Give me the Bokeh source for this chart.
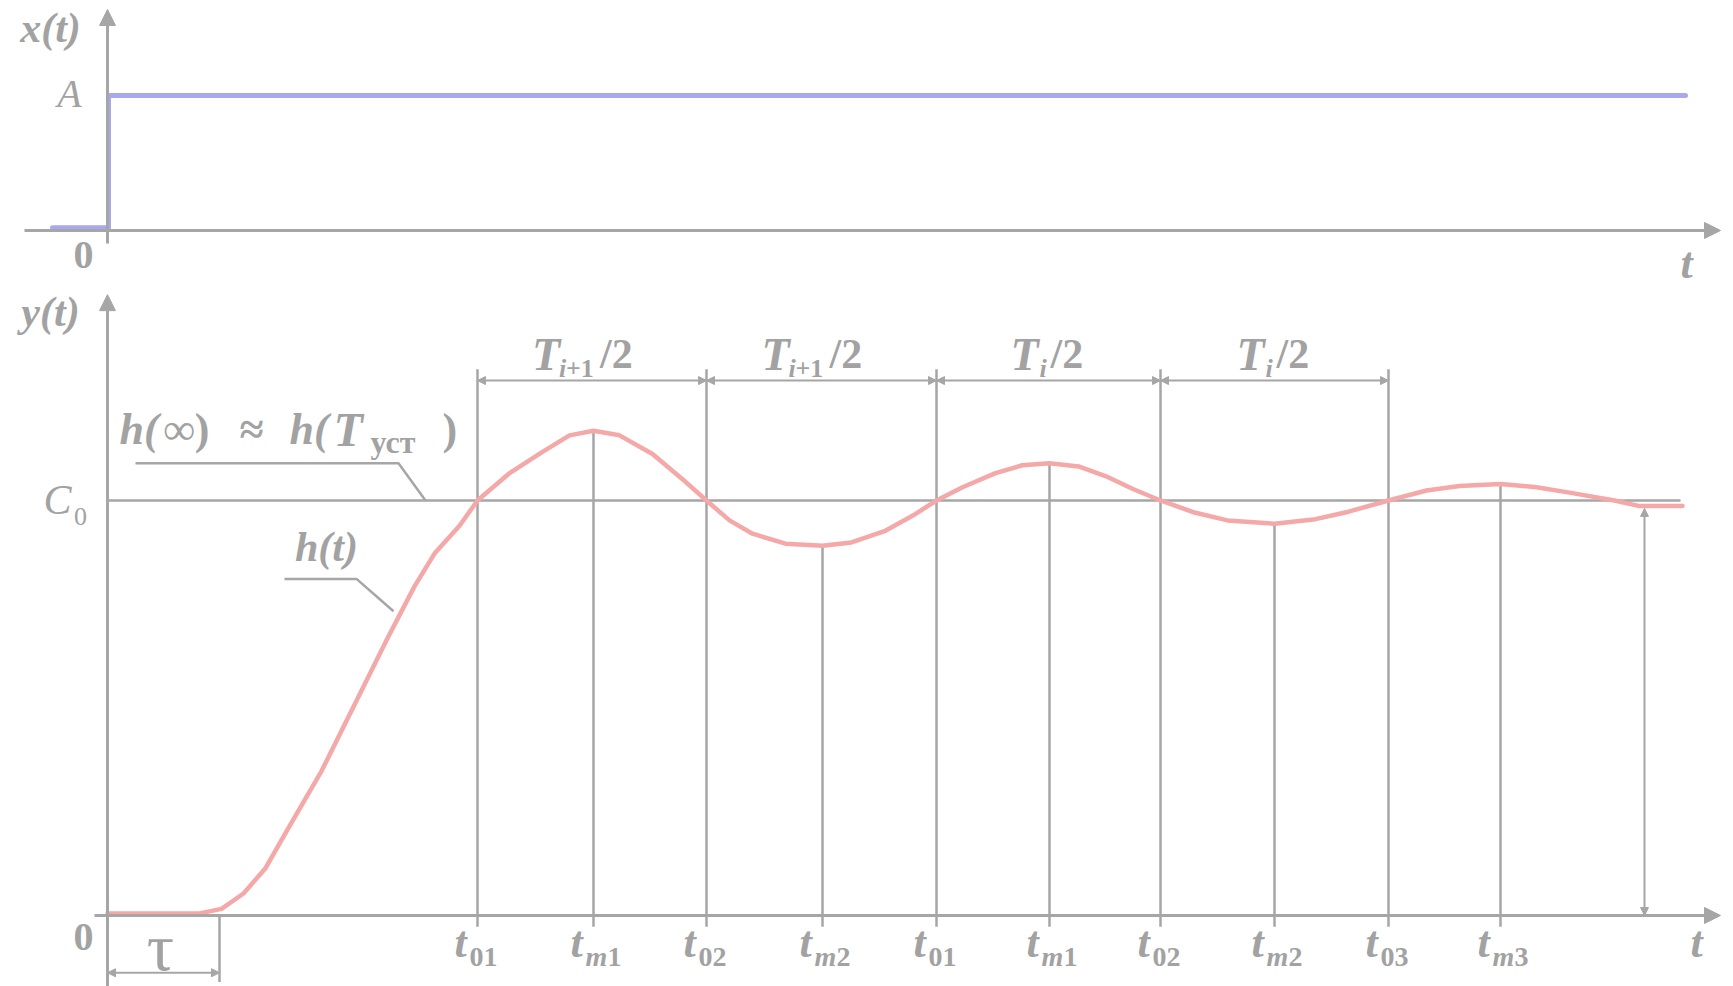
from bokeh.plotting import figure
from bokeh.models import Range1d, Arrow, NormalHead
from bokeh.core.properties import value
from bokeh.embed import file_html
from bokeh.resources import INLINE

# ---------------- data ----------------
# input step x(t)  (time in t-units, amplitude in units of A)
STEP_T = [-0.55, 0.01, 0.01, 15.78]
STEP_X = [0.02, 0.02, 1.0, 1.0]

# transient response h(t)  (amplitude in units of C0)
CURVE_T = [0.00, 0.92, 1.14, 1.36, 1.58, 1.80, 2.14, 2.47, 2.80, 3.07, 3.27, 3.52,
           3.70, 4.01, 4.35, 4.62, 4.86, 5.12, 5.45, 5.78, 5.99, 6.22, 6.45, 6.78,
           7.15, 7.44, 7.77, 8.05, 8.29, 8.55, 8.88, 9.15, 9.42, 9.71, 9.98, 10.26,
           10.53, 10.87, 11.20, 11.67, 12.08, 12.41, 12.81, 13.19, 13.52, 13.93,
           14.29, 14.62, 15.07, 15.31, 15.75]
CURVE_H = [0.005, 0.005, 0.016, 0.053, 0.114, 0.207, 0.348, 0.508, 0.668, 0.793, 0.872, 0.939,
           1.000, 1.064, 1.117, 1.157, 1.168, 1.157, 1.112, 1.045, 1.000, 0.952, 0.920, 0.896,
           0.891, 0.899, 0.926, 0.963, 1.000, 1.032, 1.066, 1.085, 1.090, 1.082, 1.059, 1.027,
           1.000, 0.971, 0.952, 0.944, 0.955, 0.973, 1.000, 1.024, 1.035, 1.040,
           1.032, 1.019, 1.000, 0.987, 0.987]

C0 = 1.0
C0_END = 15.73
TAU = 1.12
T_SETTLE = 15.37
H_SETTLE = 0.981

TICK_T = [3.70, 4.86, 5.99, 7.15, 8.29, 9.42, 10.53, 11.67, 12.81, 13.93]
TICK_TOP = [1.316, 1.168, 1.316, 0.891, 1.316, 1.090, 1.316, 0.944, 1.316, 1.040]
TICK_SUB = ["01", "m1", "02", "m2", "01", "m1", "02", "m2", "03", "m3"]

HALF_START = [3.70, 5.99, 8.29, 10.53]
HALF_END = [5.99, 8.29, 10.53, 12.81]
HALF_SUB = ["i+1", "i+1", "i", "i"]
DIM_LEVEL = 1.289

# leader lines
LEAD_INF_T = [0.28, 2.91, 3.18]
LEAD_INF_H = [1.090, 1.090, 1.000]
LEAD_HT_T = [1.77, 2.49, 2.86]
LEAD_HT_H = [0.811, 0.811, 0.733]

# ---------------- style ----------------
GRAY = "#a6a6a6"
TGRAY = "#a2a2a2"
PINK = "#f4a8a8"
BLUE = "#a8a8ee"
SERIF = value("Liberation Serif")

p = figure(width=1733, height=986, x_range=Range1d(-1.07, 16.26),
           y_range=Range1d(-0.1711, 2.2048), output_backend="svg",
           toolbar_location=None, min_border=0, x_axis_type=None, y_axis_type=None)
p.extra_y_ranges = {"top": Range1d(-5.6, 1.7037)}
p.grid.visible = False
p.outline_line_color = None
p.background_fill_color = "white"


def head(sz):
    return NormalHead(size=sz, fill_color=GRAY, line_color=GRAY, line_width=1)


def arrow(x0, y0, x1, y1, w=3, sz=14, both=False, rng="default"):
    a = Arrow(x_start=x0, y_start=y0, x_end=x1, y_end=y1, line_color=GRAY, line_width=w,
              end=head(sz), start=head(sz) if both else None, y_range_name=rng)
    p.add_layout(a)


def txt(x, y, s, size, style="bold italic", align="left", base="middle", rng="default",
        xo=0, yo=0):
    p.text(x=x if isinstance(x, list) else [x], y=y if isinstance(y, list) else [y],
           text=s if isinstance(s, list) else [s], text_font=SERIF,
           text_font_size=f"{size}px", text_font_style=style, text_color=TGRAY,
           text_align=align, text_baseline=base, x_offset=xo, y_offset=yo,
           y_range_name=rng)


# ---------- top panel: x(t) ----------
arrow(-0.83, 0, 16.13, 0, w=3, sz=16, rng="top")
arrow(0, -0.096, 0, 1.637, w=3, sz=16, rng="top")
p.line(STEP_T, STEP_X, line_color=BLUE, line_width=5, y_range_name="top",
       line_join="round", line_cap="round")
txt(-0.57, 1.50, "x(t)", 42, rng="top", align="center")
txt(-0.38, 1.015, "A", 40, style="italic", rng="top", align="center")
txt(-0.24, -0.178, "0", 40, style="bold", rng="top", align="center")
txt(15.79, -0.244, "t", 44, rng="top", align="center")

# ---------- bottom panel: y(t) ----------
arrow(-0.13, 0, 16.13, 0, w=3, sz=16)
arrow(0, -0.1711, 0, 1.496, w=3, sz=16)

# C0 level
p.line([0, C0_END], [C0, C0], line_color=GRAY, line_width=2.5)

# vertical marker lines
p.segment(x0=TICK_T, y0=[-0.027] * len(TICK_T), x1=TICK_T, y1=TICK_TOP,
          line_color=GRAY, line_width=2.5)

# tau marker
p.segment(x0=[TAU], y0=[-0.16], x1=[TAU], y1=[0], line_color=GRAY, line_width=2.5)
arrow(0, -0.138, TAU, -0.138, w=2, sz=8, both=True)

# half-period dimension arrows
for a0, a1 in zip(HALF_START, HALF_END):
    arrow(a0, DIM_LEVEL, a1, DIM_LEVEL, w=2, sz=8, both=True)

# settling arrow
arrow(T_SETTLE, 0, T_SETTLE, H_SETTLE, w=2, sz=8, both=True)

# leaders
p.line(LEAD_INF_T, LEAD_INF_H, line_color=GRAY, line_width=2.5)
p.line(LEAD_HT_T, LEAD_HT_H, line_color=GRAY, line_width=2.5)

# response curve
p.line(CURVE_T, CURVE_H, line_color=PINK, line_width=4.5, line_join="round",
       line_cap="round")

# labels
txt(-0.57, 1.453, "y(t)", 42, align="center")
txt(-0.50, 1.00, "C", 42, style="italic", align="center")
txt(-0.27, 0.962, "0", 26, style="normal", align="center")
txt(-0.24, -0.053, "0", 40, style="bold", align="center")
txt(15.89, -0.065, "t", 44, align="center")
txt(0.53, -0.075, "τ", 68, style="normal", align="center")
txt(2.19, 0.887, "h(t)", 42, align="center")

# h(∞) ≈ h(T уст)
txt(0.12, 1.171, "h(", 44)
txt(0.56, 1.171, "∞)", 44, style="bold")
txt(1.32, 1.171, "≈", 44, style="bold")
txt(1.82, 1.171, "h(", 44)
txt(2.26, 1.171, "T", 48)
txt(2.63, 1.140, "уст", 32, style="bold")
txt(3.35, 1.171, ")", 44, style="bold")

# half-period labels
mids = [(a0 + a1) / 2 for a0, a1 in zip(HALF_START, HALF_END)]
for m, sub in zip(mids, HALF_SUB):
    if sub == "i+1":
        txt(m, 1.352, "T", 46, xo=-60)
        txt(m, 1.318, "i", 26, xo=-33)
        txt(m, 1.318, "+1", 26, style="bold", xo=-26)
        txt(m, 1.352, "/2", 42, style="bold", xo=8)
    else:
        txt(m, 1.352, "T", 46, xo=-38)
        txt(m, 1.318, "i", 26, xo=-9)
        txt(m, 1.352, "/2", 42, style="bold", xo=2)

# tick labels t_xx
txt(TICK_T, [-0.064] * len(TICK_T), ["t"] * len(TICK_T), 44, xo=-23)
for tt, sub in zip(TICK_T, TICK_SUB):
    if sub[0] == "m":
        txt(tt, -0.099, "m", 28, xo=-8)
        txt(tt, -0.099, sub[1:], 28, style="bold", xo=14)
    else:
        txt(tt, -0.099, sub, 28, style="bold", xo=-8)

open("out.html", "w").write(file_html(p, INLINE))
